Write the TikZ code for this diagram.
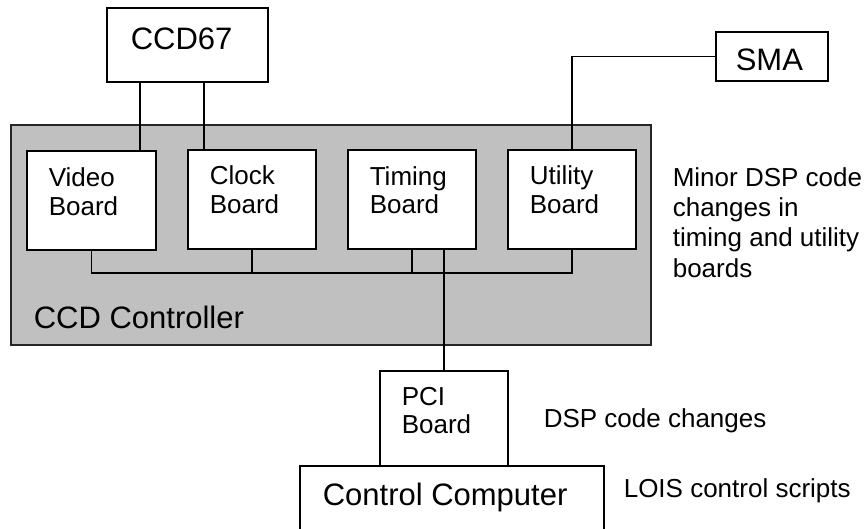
\documentclass[tikz,border=0pt]{standalone}
\usepackage{fontspec}
\setmainfont{Liberation Sans}
\definecolor{ctrlgray}{HTML}{C0C0C0}
\begin{document}
\begin{tikzpicture}[x=1pt,y=-1pt,
  line width=1.6pt,
  box/.style={draw=black,fill=white,line width=1.6pt,rectangle,inner sep=0pt},
  big/.style={font=\fontsize{31}{36}\selectfont,inner sep=0pt,anchor=base west},
  small/.style={font=\fontsize{26}{29.5}\selectfont,inner sep=0pt,anchor=base west},
  multi/.style={font=\fontsize{26}{29.5}\selectfont,inner sep=0pt,anchor=north west,align=left}
]
\useasboundingbox (0,0) rectangle (864,529);
\clip (0,0) rectangle (864,529);
% CCD controller enclosure
\node[draw=black!85,fill=ctrlgray,line width=1.4pt,minimum width=640pt,minimum height=220pt,inner sep=0pt] (ctrl) at (331,235) {};
% top boxes
\node[box,minimum width=161pt,minimum height=74pt] (ccd) at (187.5,45) {};
\node[box,minimum width=112pt,minimum height=49pt] (sma) at (772,56.5) {};
% boards
\node[box,minimum width=129pt,minimum height=99pt] (video) at (91.5,200.5) {};
\node[box,minimum width=128pt,minimum height=99pt] (clock) at (252,199.5) {};
\node[box,minimum width=128pt,minimum height=99pt] (timing) at (412,199.5) {};
\node[box,minimum width=128pt,minimum height=99pt] (utility) at (572,199.5) {};
% lower boxes
\node[box,minimum width=304pt,minimum height=80pt] (comp) at (452,506) {};
\node[box,minimum width=128pt,minimum height=95pt] (pci) at (444,418.5) {};
% helper coordinates
\coordinate (vx) at (140,0);
\coordinate (cx) at (204,0);
\coordinate (bus) at (0,273);
\coordinate (px) at (444,0);
% connectors
\draw (ccd.south -| vx) -- (video.north -| vx);
\draw (ccd.south -| cx) -- (clock.north -| cx);
\draw (sma.west) -| (utility.north);
\draw (video.south) -- (video.south |- bus) -- (utility.south |- bus) -- (utility.south);
\draw (clock.south) -- (clock.south |- bus);
\draw (timing.south) -- (timing.south |- bus);
\draw (timing.south -| px) -- (pci.north);
% texts
\node[big] (tccd) at (130,50) {CCD67};
\node[big] (tsma) at (735,71) {SMA};
\node[small] (tv1) at (48,187) {Video};
\node[small] (tv2) at (48,216) {Board};
\node[small] (tc1) at (209,185) {Clock};
\node[small] (tc2) at (209,214) {Board};
\node[small] (tt1) at (369,186) {Timing};
\node[small] (tt2) at (369,214) {Board};
\node[small] (tu1) at (529,185) {Utility};
\node[small] (tu2) at (529,214) {Board};
\node[big] (tctrl) at (33,328) {CCD Controller};
\node[small] (tp1) at (401,405) {PCI};
\node[small] (tp2) at (401,433) {Board};
\node[big] (tcomp) at (322,505) {Control Computer};
\node[small] (m1) at (672,187) {Minor DSP code};
\node[small] (m2) at (672,217) {changes in};
\node[small] (m3) at (672,247) {timing and utility};
\node[small] (m4) at (672,277) {boards};
\node[small] (dsp) at (543,427) {DSP code changes};
\node[small] (lois) at (623,497) {LOIS control scripts};
\end{tikzpicture}
\end{document}
